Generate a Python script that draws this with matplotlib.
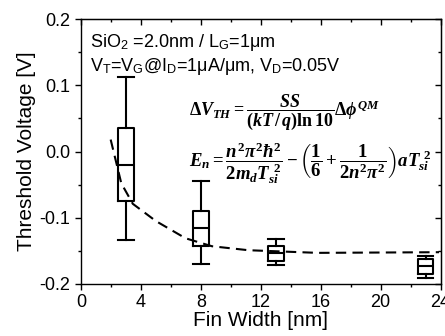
import matplotlib
matplotlib.use('Agg')
import matplotlib.pyplot as plt
from matplotlib.ticker import MultipleLocator, FormatStrFormatter

plt.rcParams['font.family'] = ['Liberation Sans', 'DejaVu Sans']
plt.rcParams['mathtext.fontset'] = 'custom'
plt.rcParams['mathtext.rm'] = 'Liberation Serif:bold'
plt.rcParams['mathtext.it'] = 'Liberation Serif:bold:italic'
plt.rcParams['mathtext.bf'] = 'Liberation Serif:bold'
plt.rcParams['mathtext.sf'] = 'Liberation Sans'
plt.rcParams['axes.unicode_minus'] = False

# box data
fin_w = [3, 8, 13, 23]
q1 = [-0.075, -0.143, -0.166, -0.185]
med = [-0.021, -0.116, -0.153, -0.173]
q3 = [0.035, -0.090, -0.142, -0.162]
wlo = [-0.133, -0.170, -0.172, -0.191]
whi = [0.112, -0.044, -0.132, -0.157]

# dashed model curve
model_x = [1.98, 2.69, 3.46, 5.0, 6.98, 8.74, 11.17, 15.8, 23.9]
model_y = [0.018, -0.048, -0.079, -0.105, -0.131, -0.143, -0.149, -0.153, -0.152]

fig = plt.figure(figsize=(4.45, 3.36), dpi=100)
ax = fig.add_axes([81/445, 52/336, (440.5-81)/445, (284-19)/336])

stats = []
for i in range(len(fin_w)):
    stats.append({'med': med[i], 'q1': q1[i], 'q3': q3[i],
                  'whislo': wlo[i], 'whishi': whi[i], 'fliers': []})

lw = 1.5
ax.bxp(stats, positions=fin_w, widths=1.05, capwidths=1.05, showfliers=False,
       manage_ticks=False,
       boxprops=dict(color='k', linewidth=lw),
       medianprops=dict(color='k', linewidth=lw),
       whiskerprops=dict(color='k', linewidth=lw),
       capprops=dict(color='k', linewidth=lw))

ax.plot(model_x, model_y, color='k', lw=1.5, linestyle=(0, (5, 3)))

ax.set_xlim(0, 24)
ax.set_ylim(-0.2, 0.2)
ax.xaxis.set_major_locator(MultipleLocator(4))
ax.xaxis.set_minor_locator(MultipleLocator(2))
ax.yaxis.set_major_locator(MultipleLocator(0.1))
ax.yaxis.set_minor_locator(MultipleLocator(0.05))
ax.yaxis.set_major_formatter(FormatStrFormatter('%.1f'))

ax.tick_params(which='both', direction='out', top=False, right=False, labelsize=13, width=1)
ax.tick_params(which='major', length=4)
ax.tick_params(which='minor', length=2.5)
sec_x = ax.secondary_xaxis('top')
sec_x.xaxis.set_major_locator(MultipleLocator(4))
sec_x.xaxis.set_minor_locator(MultipleLocator(2))
sec_x.tick_params(which='both', direction='in', labeltop=False, width=1)
sec_x.tick_params(which='major', length=4)
sec_x.tick_params(which='minor', length=2.5)
sec_y = ax.secondary_yaxis('right')
sec_y.yaxis.set_major_locator(MultipleLocator(0.1))
sec_y.yaxis.set_minor_locator(MultipleLocator(0.05))
sec_y.tick_params(which='both', direction='in', labelright=False, width=1)
sec_y.tick_params(which='major', length=4)
sec_y.tick_params(which='minor', length=2.5)
for s in ax.spines.values():
    s.set_linewidth(1.0)

ax.set_xlabel('Fin Width [nm]', fontsize=15, labelpad=0)
ax.set_ylabel('Threshold Voltage [V]', fontsize=15, labelpad=3)

ax.text(0.026, 0.895, r'SiO$_\mathsf{2}$ =2.0nm / L$_\mathsf{G}$=1μm',
        transform=ax.transAxes, fontsize=13)
ax.text(0.026, 0.805, r'V$_\mathsf{T}$=V$_\mathsf{G}$@I$_\mathsf{D}$=1μA/μm, V$_\mathsf{D}$=0.05V',
        transform=ax.transAxes, fontsize=13)

ax.text(0.30, 0.65, r'$\Delta V_{TH}=\dfrac{SS}{(kT\,/\,q)\ln10}\Delta\phi^{QM}$',
        transform=ax.transAxes, fontsize=13, va='center')
ax.text(0.30, 0.455,
        r'$E_n=\dfrac{n^2\pi^2\hbar^2}{2m_dT_{si}^{\ 2}}-\left(\dfrac{1}{6}+\dfrac{1}{2n^2\pi^2}\right)aT_{si}^{\ 2}$',
        transform=ax.transAxes, fontsize=13.5, va='center')

fig.savefig('out.png', dpi=100)
